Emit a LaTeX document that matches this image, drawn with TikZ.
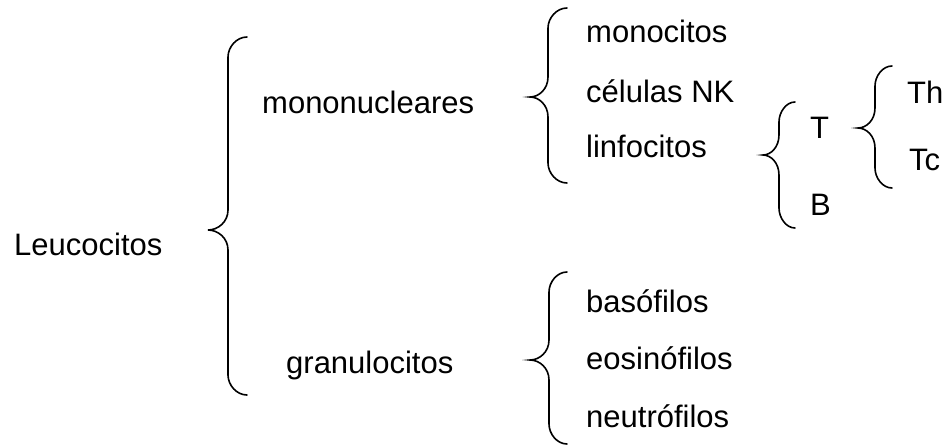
\documentclass[tikz,border=0pt]{standalone}
\usepackage{fontspec}
\setmainfont{Liberation Sans}
\newcommand\mybrace[6]{% xe xv xt ytop ytip ybot
  \draw[bracestyle] (#1,#4) .. controls ({#2+0.45*(#1-#2)},#4) and (#2,{#4+10}) .. (#2,{#4+20})
    -- (#2,{#5-20}) .. controls (#2,{#5-8}) and ({#3+0.5*(#2-#3)},#5) .. (#3,#5)
    .. controls ({#3+0.5*(#2-#3)},#5) and (#2,{#5+8}) .. (#2,{#5+20})
    -- (#2,{#6-20}) .. controls (#2,{#6-10}) and ({#2+0.45*(#1-#2)},#6) .. (#1,#6);}
\begin{document}
\begin{tikzpicture}[x=1pt,y=-1pt,
  lbl/.style={anchor=base west,inner sep=0pt,font=\fontsize{31}{36}\selectfont},
  bracestyle/.style={line width=1.6pt,line cap=round}]
\useasboundingbox (0,0) rectangle (948,447);
\node[lbl] (leu) at (14,255) {Leucocitos};
\node[lbl] (mono) at (262,113) {mononucleares};
\node[lbl] (gran) at (286,373) {granulocitos};
\node[lbl] (moc) at (586,42) {monocitos};
\node[lbl] (nk) at (586,102) {células NK};
\node[lbl] (lin) at (586,157) {linfocitos};
\node[lbl] (t) at (810,138) {T};
\node[lbl] (b) at (810,215) {B};
\node[lbl] (th) at (907,103) {Th};
\node[lbl] (tc) at (909,170) {Tc};
\node[lbl] (bas) at (586,312) {basófilos};
\node[lbl] (eos) at (586,369) {eosinófilos};
\node[lbl] (neu) at (586,427) {neutrófilos};
\mybrace{247}{228}{208}{37}{230}{395}
\mybrace{567}{548}{530}{8}{97}{183}
\mybrace{795}{779}{763}{102}{155}{228}
\mybrace{892}{875}{858}{66}{128}{188}
\mybrace{567}{549}{530}{272}{360}{444}
\end{tikzpicture}
\end{document}
